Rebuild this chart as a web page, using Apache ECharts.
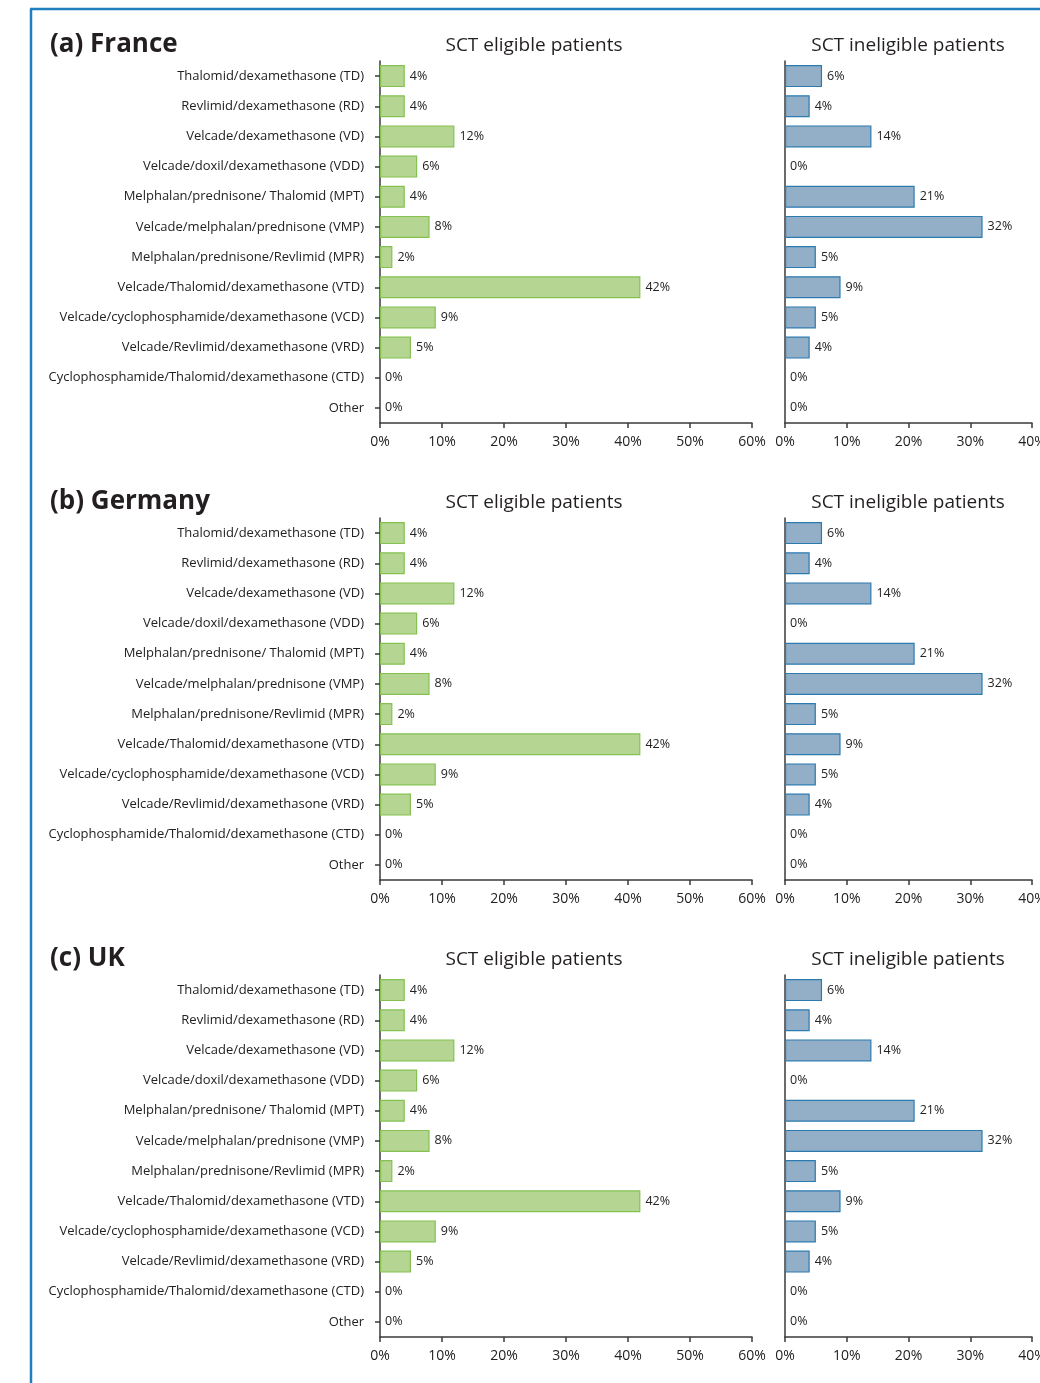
<!DOCTYPE html>
<html>
<head>
<meta charset="utf-8">
<script src="https://cdn.jsdelivr.net/npm/echarts@6/dist/echarts.min.js"></script>
<style>
html,body{margin:0;padding:0;background:#fff;}
#chart{width:1040px;height:1383px;}
</style>
</head>
<body>
<div id="chart"></div>
<script>
const categories = [
  'Thalomid/dexamethasone (TD)',
  'Revlimid/dexamethasone (RD)',
  'Velcade/dexamethasone (VD)',
  'Velcade/doxil/dexamethasone (VDD)',
  'Melphalan/prednisone/ Thalomid (MPT)',
  'Velcade/melphalan/prednisone (VMP)',
  'Melphalan/prednisone/Revlimid (MPR)',
  'Velcade/Thalomid/dexamethasone (VTD)',
  'Velcade/cyclophosphamide/dexamethasone (VCD)',
  'Velcade/Revlimid/dexamethasone (VRD)',
  'Cyclophosphamide/Thalomid/dexamethasone (CTD)',
  'Other'
];
const panelTitles = ['(a) France', '(b) Germany', '(c) UK'];
const subTitles = ['SCT eligible patients', 'SCT ineligible patients'];
const franceEligible   = [4, 4, 12, 6, 4, 8, 2, 42, 9, 5, 0, 0];
const franceIneligible = [6, 4, 14, 0, 21, 32, 5, 9, 5, 4, 0, 0];
const germanyEligible   = [4, 4, 12, 6, 4, 8, 2, 42, 9, 5, 0, 0];
const germanyIneligible = [6, 4, 14, 0, 21, 32, 5, 9, 5, 4, 0, 0];
const ukEligible   = [4, 4, 12, 6, 4, 8, 2, 42, 9, 5, 0, 0];
const ukIneligible = [6, 4, 14, 0, 21, 32, 5, 9, 5, 4, 0, 0];
const eligibleMax = 60, ineligibleMax = 40, tickStep = 10;

const panels = [
  [franceEligible, franceIneligible],
  [germanyEligible, germanyIneligible],
  [ukEligible, ukIneligible]
];

const FONT = '"Open Sans", "Noto Sans", sans-serif';
const AX = '#3a3a3a';
const panelTops = [61, 518, 975];
const gridH = 362;

const grids = [], xAxes = [], yAxes = [], series = [], titles = [];
panels.forEach((p, pi) => {
  const top = panelTops[pi];
  [0, 1].forEach(side => {
    const gi = grids.length;
    const left = side === 0 ? 380 : 785;
    const width = side === 0 ? 372 : 247;
    grids.push({left: left, top: top, width: width, height: gridH, outerBoundsMode: 'none', containLabel: false});
    xAxes.push({
      type: 'value', gridIndex: gi, min: 0, max: side === 0 ? eligibleMax : ineligibleMax,
      interval: tickStep, splitLine: {show: false},
      axisLine: {show: true, lineStyle: {color: AX, width: 1.5}},
      axisTick: {show: true, length: 5, lineStyle: {color: AX, width: 1.5}},
      axisLabel: {formatter: '{value}%', color: '#222', fontSize: 14, fontFamily: FONT, margin: 12}
    });
    yAxes.push({
      type: 'category', gridIndex: gi, data: categories, inverse: true,
      axisLine: {show: true, lineStyle: {color: AX, width: 1.5}},
      axisTick: {show: side === 0, alignWithLabel: true, length: 5, lineStyle: {color: AX, width: 1.5}},
      axisLabel: {show: side === 0, color: '#222', fontSize: 13, fontFamily: FONT, margin: 16}
    });
    series.push({
      type: 'bar', xAxisIndex: gi, yAxisIndex: gi,
      data: p[side].map(v => v === 0 ? {value: v, itemStyle: {borderWidth: 0}} : v),
      barWidth: '73%',
      itemStyle: side === 0
        ? {color: '#b5d592', borderColor: '#84c151', borderWidth: 1.2}
        : {color: '#93afc7', borderColor: '#2b7bb0', borderWidth: 1.2},
      label: {show: true, position: 'right', distance: 5, formatter: '{c}%', color: '#222', fontSize: 12.5, fontFamily: FONT},
      silent: true
    });
  });
  titles.push({text: panelTitles[pi], left: 45, top: top - 34,
    textStyle: {fontSize: 26, fontWeight: 'bold', color: '#231f20', fontFamily: FONT}});
  titles.push({text: subTitles[0], left: 529, textAlign: 'center', top: top - 30,
    textStyle: {fontSize: 19, fontWeight: 'normal', color: '#231f20', fontFamily: FONT}});
  titles.push({text: subTitles[1], left: 903, textAlign: 'center', top: top - 30,
    textStyle: {fontSize: 19, fontWeight: 'normal', color: '#231f20', fontFamily: FONT}});
});

const chart = echarts.init(document.getElementById('chart'), null, {renderer: 'canvas'});
chart.setOption({
  animation: false,
  backgroundColor: '#fff',
  title: titles,
  grid: grids,
  xAxis: xAxes,
  yAxis: yAxes,
  series: series,
  graphic: [
    {type: 'line', shape: {x1: 31, y1: 9, x2: 31, y2: 1383}, style: {stroke: '#1f7fbf', lineWidth: 2.5}},
    {type: 'line', shape: {x1: 30, y1: 9, x2: 1040, y2: 9}, style: {stroke: '#1f7fbf', lineWidth: 2.5}}
  ]
});
</script>
</body>
</html>
